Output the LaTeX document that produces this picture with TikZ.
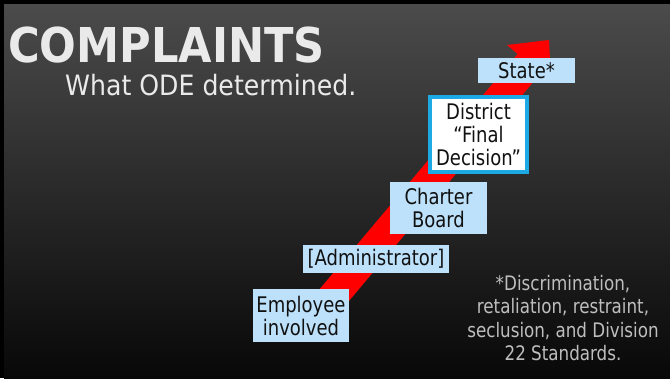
\documentclass[tikz,border=0pt]{standalone}
\usepackage{fontspec}
\setmainfont{DejaVu Sans Condensed}
\newfontfamily\boxfont[FakeStretch=0.93]{DejaVu Sans Condensed}
\definecolor{bgtop}{HTML}{4B4B4B}
\definecolor{bgbot}{HTML}{080808}
\definecolor{boxblue}{HTML}{BDE1FB}
\definecolor{edgeblue}{HTML}{1DA9E4}
\definecolor{titlegray}{HTML}{EAEAEA}
\definecolor{notegray}{HTML}{BEBEBE}
\definecolor{textdark}{HTML}{111111}
\begin{document}
\begin{tikzpicture}[x=1pt,y=-1pt,
  box/.style={fill=boxblue, text=textdark, inner sep=0pt, align=center,
    font=\boxfont\fontsize{21.5}{23}\selectfont},
  finalbox/.style={box, fill=white, draw=edgeblue, line width=4pt}]
\useasboundingbox (0,0) rectangle (670,378);
\fill[black] (0,0) rectangle (670,378);
\shade[top color=bgtop,bottom color=bgbot] (4,4) rectangle (670,378);
% red arrow
\coordinate (tip) at (549,40);
\coordinate (hl) at (507,45);
\coordinate (nl) at (517.6,54.0);
\coordinate (bl) at (318.6,290.3);
\coordinate (br) at (341.6,309.7);
\coordinate (nr) at (540.6,73.3);
\coordinate (hr) at (551.2,82.2);
\fill[red] (tip) -- (hl) -- (nl) -- (bl) -- (br) -- (nr) -- (hr) -- cycle;
% title
\node[anchor=base west, inner sep=0pt, text=titlegray,
  font=\bfseries\fontsize{48}{48}\selectfont] (title) at (8,62) {COMPLAINTS};
\node[anchor=base west, inner sep=0pt, text=titlegray,
  font=\fontsize{28}{30}\selectfont] (sub) at (65,95) {What ODE determined.};
% boxes
\node[box, minimum width=97pt, minimum height=25pt] (state) at (526.5,70.5) {State*};
\node[finalbox, minimum width=97pt, minimum height=75pt] (district) at (478.5,134.5) {District\\“Final\\Decision”};
\node[box, minimum width=97pt, minimum height=52pt] (charter) at (438.5,208) {Charter\\Board};
\node[box, minimum width=146pt, minimum height=28pt] (admin) at (376,259) {[Administrator]};
\node[box, minimum width=96pt, minimum height=53pt] (employee) at (301,315.5) {Employee\\involved};
% note
\node[anchor=north, inner sep=0pt, text=notegray, align=center,
  font=\boxfont\fontsize{20}{23.3}\selectfont] (note) at (563,275)
  {*Discrimination,\\retaliation, restraint,\\seclusion, and Division\\22 Standards.};
\end{tikzpicture}
\end{document}
